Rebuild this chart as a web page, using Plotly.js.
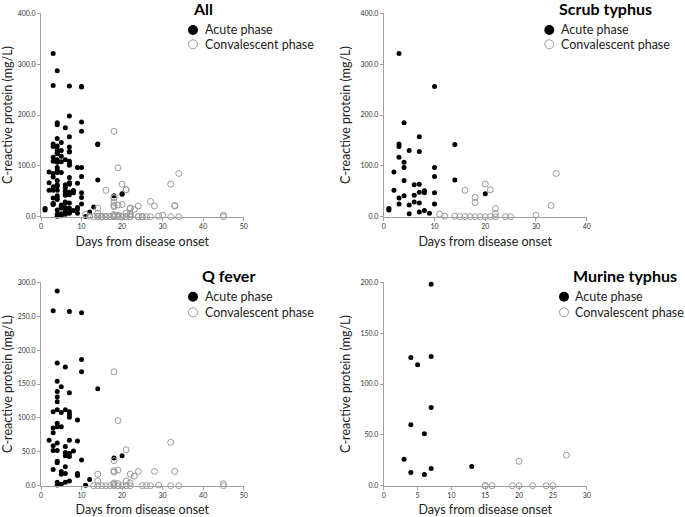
<!DOCTYPE html>
<html>
<head>
<meta charset="utf-8">
<script src="https://cdn.plot.ly/plotly-3.0.1.min.js"></script>
<style>html,body{margin:0;padding:0;background:#fff;}#chart{width:685px;height:517px;}</style>
</head>
<body>
<div id="chart"></div>
<script>
// ---- Data ----
const scrubAcuteDays = [1,1,2,2,3,3,3,3,3,3,4,4,4,4,4,5,5,5,6,6,6,7,7,7,7,7,7,8,8,8,9,10,10,10,10,10,14,14,20];
const scrubAcuteCRP  = [16,13,88,52,321,143,138,117,37,25,185,107,97,71,41,130,23,6,63,42,29,157,128,64,48,27,9,51,47,12,7,256,97,79,47,25,142,72,45];
const scrubConvDays  = [11,12,14,15,16,16,17,18,18,18,19,20,20,21,21,22,22,22,24,25,30,33,34];
const scrubConvCRP   = [5,1,1,0,52,0,0,38,28,0,0,64,0,53,0,16,6,0,0,0,3,22,85];

const qAcuteDays = [2,
  3,3,3,3,3,3,3,
  4,4,4,4,4,4,4,4,4,4,4,4,4,4,4,
  5,5,5,5,5,5,
  6,6,6,6,6,6,6,6,
  7,7,7,7,7,7,7,7,7,
  8,
  9,9,9,9,
  10,10,10,10,
  11,12,14,18,20];
const qAcuteCRP = [67,
  258,109,85,78,59,52,24,
  287,181,154,139,131,124,112,92,87,63,52,36,34,5,1,
  146,108,87,21,17,2,
  175,112,58,49,44,28,18,5,
  257,137,109,105,101,67,48,43,7,
  51,
  97,66,18,15,
  255,186,168,38,
  0.5,9,143,41,44];
const qConvDays = [13,14,14,14,15,16,17,18,18,18,18,18,18,18,19,19,19,19,20,21,21,21,22,22,22,23,24,25,26,27,28,29,32,32,33,34,45,45];
const qConvCRP  = [0,17,7,0,0,0,0,168,37,22,20,4,2,0,96,23,3,0,0,53,7,0,17,4,0,14,21,0,0,0,21,1,64,0,21,0,3,0];

const murineAcuteDays = [3,4,4,4,5,6,6,7,7,7,7,13];
const murineAcuteCRP  = [26,126,60,13,119,51,11,198,127,77,17,19];
const murineConvDays  = [15,15,16,19,20,20,22,24,25,27];
const murineConvCRP   = [0,0,0,0,24,0,0,0,0,30];

const allAcuteDays = scrubAcuteDays.concat(qAcuteDays, murineAcuteDays);
const allAcuteCRP  = scrubAcuteCRP.concat(qAcuteCRP, murineAcuteCRP);
const allConvDays  = scrubConvDays.concat(qConvDays, murineConvDays);
const allConvCRP   = scrubConvCRP.concat(qConvCRP, murineConvCRP);

const panelTitles = ["All", "Scrub typhus", "Q fever", "Murine typhus"];
const legendLabels = ["Acute phase", "Convalescent phase"];
const xAxisTitle = "Days from disease onset";
const yAxisTitle = "C-reactive protein (mg/L)";

// ---- Layout helpers ----
const W = 685, H = 517;
const px = p => p / W;
const py = p => 1 - p / H;
const FONT = "Lato, 'Open Sans', sans-serif";

const panels = [
  {acute:[allAcuteDays, allAcuteCRP], conv:[allConvDays, allConvCRP], xr:[0,50], xd:10, yr:[0,400], yd:100,
   xdom:[px(41), px(243.7)], ydom:[py(216.7), py(13.3)], title:{x:191, y:8}, leg:{mx:193, tx:203, y1:30, y2:44.3}},
  {acute:[scrubAcuteDays, scrubAcuteCRP], conv:[scrubConvDays, scrubConvCRP], xr:[0,40], xd:10, yr:[0,400], yd:100,
   xdom:[px(383.8), px(586.7)], ydom:[py(216.7), py(13.3)], title:{x:557, y:8}, leg:{mx:549.3, tx:559, y1:30, y2:44.3}},
  {acute:[qAcuteDays, qAcuteCRP], conv:[qConvDays, qConvCRP], xr:[0,50], xd:10, yr:[0,300], yd:50,
   xdom:[px(41), px(243.7)], ydom:[py(485.7), py(282.3)], title:{x:200, y:275}, leg:{mx:193, tx:203, y1:296.7, y2:312.3}},
  {acute:[murineAcuteDays, murineAcuteCRP], conv:[murineConvDays, murineConvCRP], xr:[0,30], xd:5, yr:[0,200], yd:50,
   xdom:[px(383.8), px(586.7)], ydom:[py(485.7), py(282.3)], title:{x:571, y:275}, leg:{mx:564, tx:573, y1:296.7, y2:312.3}}
];

const traces = [];
const layout = {
  width: W, height: H,
  margin: {l:0, r:0, t:0, b:0},
  paper_bgcolor: "#fff", plot_bgcolor: "#fff",
  showlegend: false,
  font: {family: FONT, color: "#222"},
  annotations: [], shapes: []
};

panels.forEach((p, i) => {
  const n = i === 0 ? "" : String(i + 1);
  const xa = "x" + n, ya = "y" + n;
  traces.push({
    type: "scatter", mode: "markers", name: legendLabels[0],
    x: p.acute[0], y: p.acute[1], xaxis: xa, yaxis: ya, cliponaxis: false,
    marker: {symbol: "circle", size: 5, color: "#000"}
  });
  traces.push({
    type: "scatter", mode: "markers", name: legendLabels[1],
    x: p.conv[0], y: p.conv[1], xaxis: xa, yaxis: ya, cliponaxis: false,
    marker: {symbol: "circle-open", size: 6, color: "#9a9a9a", line: {width: 1}}
  });
  const axCommon = {
    showline: true, linecolor: "#a0a0a0", linewidth: 1, mirror: false,
    showgrid: false, zeroline: false, ticks: "outside", ticklen: 3, tickwidth: 1, tickcolor: "#a0a0a0",
    tickfont: {size: 7, color: "#333", family: FONT}, fixedrange: true
  };
  layout["xaxis" + n] = Object.assign({}, axCommon, {
    domain: p.xdom, range: p.xr, dtick: p.xd, tick0: 0, anchor: ya,
    title: {text: xAxisTitle, font: {size: 12.5, color: "#222", family: FONT}, standoff: 8}
  });
  layout["yaxis" + n] = Object.assign({}, axCommon, {
    domain: p.ydom, range: p.yr, dtick: p.yd, tick0: 0, anchor: xa, tickformat: ".1f",
    title: {text: yAxisTitle, font: {size: 12.5, color: "#222", family: FONT}, standoff: 7}
  });
  layout.annotations.push({
    xref: "paper", yref: "paper", x: px(p.title.x), y: py(p.title.y), xanchor: "left", yanchor: "middle",
    text: "<b>" + panelTitles[i] + "</b>", showarrow: false, font: {size: 16, color: "#000", family: FONT}
  });
  layout.annotations.push({
    xref: "paper", yref: "paper", x: px(p.leg.tx), y: py(p.leg.y1), xanchor: "left", yanchor: "middle",
    text: legendLabels[0], showarrow: false, font: {size: 12.5, color: "#222", family: FONT}
  });
  layout.annotations.push({
    xref: "paper", yref: "paper", x: px(p.leg.tx), y: py(p.leg.y2), xanchor: "left", yanchor: "middle",
    text: legendLabels[1], showarrow: false, font: {size: 12.5, color: "#222", family: FONT}
  });
  layout.shapes.push({
    type: "circle", xref: "paper", yref: "paper", xsizemode: "pixel", ysizemode: "pixel",
    xanchor: px(p.leg.mx), yanchor: py(p.leg.y1), x0: -5, x1: 5, y0: -5, y1: 5,
    fillcolor: "#000", line: {color: "#000", width: 0}
  });
  layout.shapes.push({
    type: "circle", xref: "paper", yref: "paper", xsizemode: "pixel", ysizemode: "pixel",
    xanchor: px(p.leg.mx), yanchor: py(p.leg.y2), x0: -4.5, x1: 4.5, y0: -4.5, y1: 4.5,
    fillcolor: "rgba(0,0,0,0)", line: {color: "#9a9a9a", width: 1}
  });
});

Plotly.newPlot("chart", traces, layout, {displayModeBar: false, staticPlot: true});
</script>
</body>
</html>
